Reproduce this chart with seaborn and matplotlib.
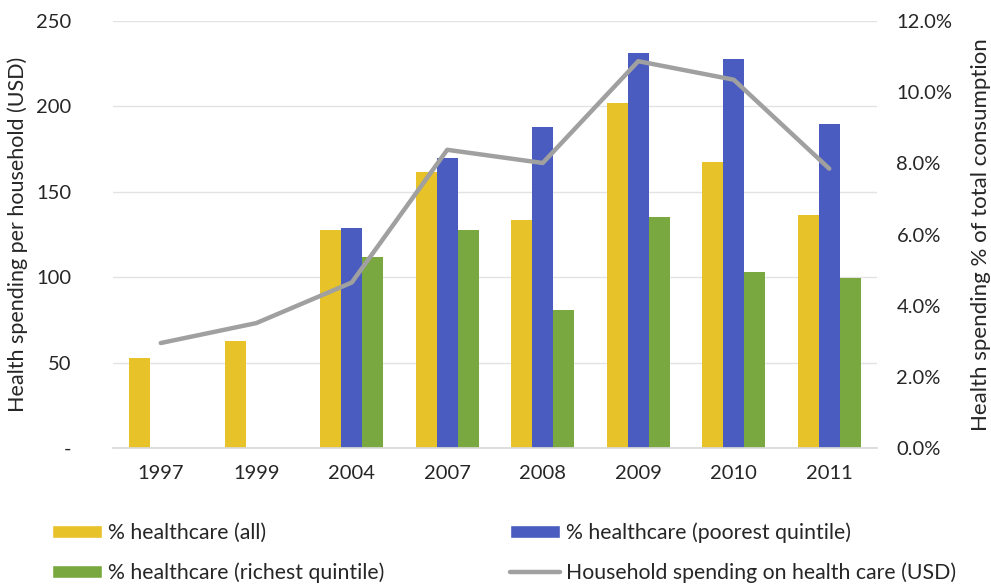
import numpy as np
import pandas as pd
import matplotlib
matplotlib.use("Agg")
import matplotlib.pyplot as plt
import seaborn as sns
from matplotlib.patches import Patch
from matplotlib.lines import Line2D
from matplotlib.ticker import FuncFormatter, PercentFormatter

years = ["1997", "1999", "2004", "2007", "2008", "2009", "2010", "2011"]
hc_all = [52.5, 62.8, 127.8, 161.4, 133.7, 202.0, 167.2, 136.6]
hc_poorest = [np.nan, np.nan, 128.6, 170.0, 188.1, 231.3, 227.5, 189.7]
hc_richest = [np.nan, np.nan, 111.8, 127.8, 81.0, 135.0, 103.0, 99.5]
spend_pct = [2.95, 3.51, 4.65, 8.38, 8.01, 10.87, 10.35, 7.85]

labels = ["% healthcare (all)", "% healthcare (poorest quintile)",
          "% healthcare (richest quintile)", "Household spending on health care (USD)"]
colors = ["#E8C229", "#4A5CBF", "#78A83F", "#A0A0A0"]

sns.set_theme(style="white")
plt.rcParams["font.family"] = ["Lato", "DejaVu Sans"]

df = pd.DataFrame({"year": years, labels[0]: hc_all, labels[1]: hc_poorest, labels[2]: hc_richest})
long = df.melt(id_vars="year", var_name="series", value_name="value").dropna()

fig = plt.figure(figsize=(9.91, 5.84), dpi=100)
ax = fig.add_axes([113 / 991, 1 - 448 / 584, (877 - 113) / 991, (448 - 21) / 584])

sns.barplot(data=long, x="year", y="value", hue="series", order=years,
            hue_order=labels[:3], palette=colors[:3], width=0.66, gap=0,
            saturation=1, errorbar=None, ax=ax, legend=False, linewidth=0)

ax.set_ylim(0, 250)
ax.set_xlim(-0.5, 7.5)
ax.set_yticks([0, 50, 100, 150, 200, 250])
ax.yaxis.set_major_formatter(FuncFormatter(lambda v, p: "-" if v == 0 else f"{int(v)}"))
ax.grid(axis="y", color="#E3E3E3", linewidth=1)
ax.set_axisbelow(True)
for s in ["top", "right", "left"]:
    ax.spines[s].set_visible(False)
ax.spines["bottom"].set_color("#D9D9D9")
ax.tick_params(axis="both", length=0, labelsize=14.5, colors="#262626")
ax.tick_params(axis="y", pad=30)
ax.tick_params(axis="x", pad=12)
ax.set_xlabel("")
ax.set_ylabel("Health spending per household (USD)", fontsize=15.5, color="#262626", labelpad=6)

ax2 = ax.twinx()
sns.lineplot(x=np.arange(len(years)), y=spend_pct, ax=ax2, color=colors[3],
             linewidth=3.2, sort=False)
ax2.set_ylim(0, 12)
ax2.set_yticks([0, 2, 4, 6, 8, 10, 12])
ax2.yaxis.set_major_formatter(PercentFormatter(decimals=1))
for s in ["top", "right", "left", "bottom"]:
    ax2.spines[s].set_visible(False)
ax2.tick_params(axis="y", length=0, labelsize=14.5, colors="#262626", pad=14)
ax2.set_ylabel("Health spending % of total consumption", fontsize=16, color="#262626", labelpad=13)

handles = [Patch(facecolor=colors[0]), Patch(facecolor=colors[2]),
           Patch(facecolor=colors[1]), Line2D([], [], color=colors[3], linewidth=3.2)]
fig.legend(handles, [labels[0], labels[2], labels[1], labels[3]], ncol=2,
           loc="upper left", bbox_to_anchor=(52 / 991, 1 - 522 / 584),
           borderpad=0, borderaxespad=0,
           frameon=False, fontsize=15.3, handlelength=2.35, handleheight=0.57,
           handletextpad=0.3, columnspacing=5.9, labelspacing=0.95,
           labelcolor="#262626")

fig.savefig("out.png", dpi=100)
